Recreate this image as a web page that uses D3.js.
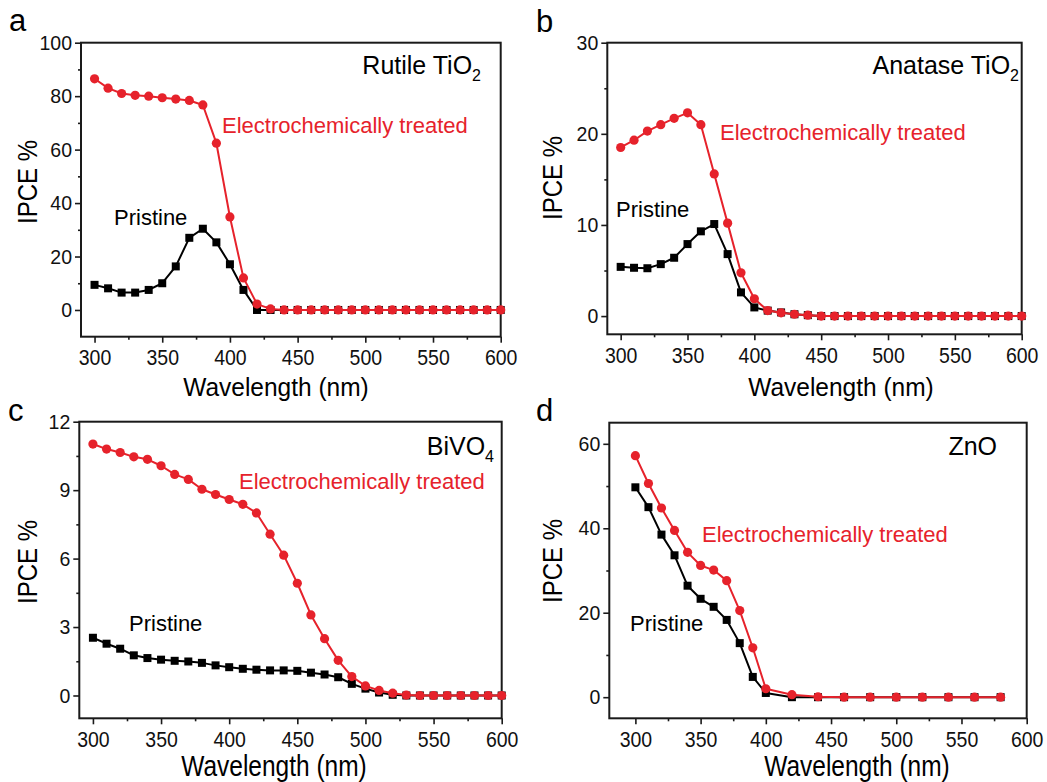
<!DOCTYPE html>
<html>
<head>
<meta charset="utf-8">
<script src="https://cdn.jsdelivr.net/npm/d3@7"></script>
<style>
  body { margin: 0; background: #fff; }
  svg { font-family: "Liberation Sans", Arial, Helvetica, sans-serif; }
</style>
</head>
<body>
<svg id="chart" width="1047" height="782"></svg>
<script>
"use strict";

// Wavelengths (nm) shared by panels a, b and c.
const wave10 = [300, 310, 320, 330, 340, 350, 360, 370, 380, 390, 400,
  410, 420, 430, 440, 450, 460, 470, 480, 490, 500,
  510, 520, 530, 540, 550, 560, 570, 580, 590, 600];

// Panel d was measured on a coarser grid above 400 nm.
const waveZnO = [300, 310, 320, 330, 340, 350, 360, 370, 380, 390, 400,
  420, 440, 460, 480, 500, 520, 540, 560, 580];

// IPCE %.
const rutileTreated = [86.5, 83, 81, 80.3, 80, 79.4, 78.9, 78.4, 76.7, 62.4, 34.8,
  12, 2.2, 0.4, 0, 0, 0, 0, 0, 0, 0, 0, 0, 0, 0, 0, 0, 0, 0, 0, 0];
const rutilePristine = [9.4, 8.1, 6.5, 6.5, 7.5, 10, 16.3, 27, 30.4, 25.3, 17.1,
  7.5, 0, 0, 0, 0, 0, 0, 0, 0, 0, 0, 0, 0, 0, 0, 0, 0, 0, 0, 0];

const anataseTreated = [18.5, 19.3, 20.3, 21.0, 21.7, 22.3, 21.0, 15.6, 10.2, 4.75, 1.9,
  0.6, 0.36, 0.2, 0.1, 0, 0, 0, 0, 0, 0, 0, 0, 0, 0, 0, 0, 0, 0, 0, 0];
const anatasePristine = [5.4, 5.3, 5.25, 5.7, 6.4, 7.9, 9.3, 10.1, 6.8, 2.6, 0.95,
  0.6, 0.4, 0.2, 0.1, 0, 0, 0, 0, 0, 0, 0, 0, 0, 0, 0, 0, 0, 0, 0, 0];

const bivo4Treated = [11.02, 10.8, 10.65, 10.46, 10.35, 10.07, 9.69, 9.47, 9.04, 8.81, 8.59,
  8.38, 8.0, 7.07, 6.15, 4.92, 3.53, 2.49, 1.54, 0.83, 0.42,
  0.22, 0.1, 0.02, 0, 0, 0, 0, 0, 0, 0];
const bivo4Pristine = [2.53, 2.27, 2.05, 1.76, 1.64, 1.57, 1.52, 1.49, 1.43, 1.32, 1.24,
  1.17, 1.13, 1.1, 1.1, 1.08, 1.0, 0.92, 0.8, 0.51, 0.3,
  0.13, 0.03, 0, 0, 0, 0, 0, 0, 0, 0];

const znoTreated = [57.2, 50.6, 44.8, 39.5, 34.3, 31.2, 30.1, 27.6, 20.5, 11.7, 2.0,
  0.6, 0.1, 0, 0, 0, 0, 0, 0, 0];
const znoPristine = [49.7, 45.0, 38.5, 33.6, 26.4, 23.3, 21.4, 18.3, 12.8, 4.8, 1.0,
  0, 0, 0, 0, 0, 0, 0, 0, 0];

// Tick values.
const xMajor = [300, 350, 400, 450, 500, 550, 600];
const xMinor = [325, 375, 425, 475, 525, 575];

const red = "#e6222b";
const axisColor = "#1a1a1a";

const svg = d3.select("#chart");

function zip(xs, ys) {
  return xs.map(function (x, i) { return [x, ys[i]]; });
}

function drawAxes(g, p, x, y) {
  const xAxis = g.append("g").attr("transform", "translate(0," + p.bottom + ")");
  xAxis.call(d3.axisBottom(x).tickValues(xMajor).tickSize(6).tickFormat(d3.format("d")));
  xAxis.append("g").call(d3.axisBottom(x).tickValues(xMinor).tickSize(3).tickFormat(""));
  // the original tick labels are a bit taller than they are wide
  xAxis.selectAll("text")
    .attr("y", 28.5 / 1.15).attr("dy", 0)
    .attr("transform", "scale(1,1.15)")
    .style("font-size", "19.5px");

  const yAxis = g.append("g").attr("transform", "translate(" + p.left + ",0)");
  yAxis.call(d3.axisLeft(y).tickValues(p.yMajor).tickSize(6).tickPadding(3)
    .tickFormat(d3.format("d")));
  yAxis.append("g").call(d3.axisLeft(y).tickValues(p.yMinor).tickSize(3).tickFormat(""));
  yAxis.selectAll("text").attr("dy", "0.34em").style("font-size", "19.5px");

  g.selectAll(".domain").remove();
  g.selectAll(".tick line").attr("stroke", axisColor).attr("stroke-width", 1.6);
  g.selectAll(".tick text").attr("fill", "#111");

  g.append("rect")
    .attr("x", p.left).attr("y", p.top)
    .attr("width", p.right - p.left).attr("height", p.bottom - p.top)
    .attr("fill", "none").attr("stroke", axisColor).attr("stroke-width", 2);
}

function drawSeries(g, x, y, pts, color, marker) {
  const line = d3.line().x(function (d) { return x(d[0]); }).y(function (d) { return y(d[1]); });
  g.append("path").datum(pts)
    .attr("fill", "none").attr("stroke", color).attr("stroke-width", 2)
    .attr("stroke-linejoin", "round")
    .attr("d", line);
  if (marker === "square") {
    g.append("g").selectAll("rect").data(pts).enter().append("rect")
      .attr("x", function (d) { return x(d[0]) - 4; })
      .attr("y", function (d) { return y(d[1]) - 4; })
      .attr("width", 8).attr("height", 8)
      .attr("fill", color);
  } else {
    g.append("g").selectAll("circle").data(pts).enter().append("circle")
      .attr("cx", function (d) { return x(d[0]); })
      .attr("cy", function (d) { return y(d[1]); })
      .attr("r", 4.6)
      .attr("fill", color);
  }
}

function drawTitles(g, p) {
  g.append("text")
    .attr("x", p.letter[0]).attr("y", p.letter[1])
    .style("font-size", "31px").text(p.name);

  g.append("text")
    .attr("transform", "translate(" + p.yTitle[0] + "," + p.yTitle[1] + ") rotate(-90) scale(1,1.15)")
    .attr("text-anchor", "middle")
    .style("font-size", "24px").text("IPCE %");

  g.append("text")
    .attr("transform", "translate(" + p.xTitle[0] + "," + p.xTitle[1] + ") scale(1," + p.xStretch + ")")
    .attr("text-anchor", "middle")
    .style("font-size", "24.5px").text("Wavelength (nm)");

  const mat = g.append("text")
    .attr("x", p.material[0]).attr("y", p.material[1])
    .attr("text-anchor", "end")
    .style("font-size", "25px");
  mat.append("tspan").text(p.materialText);
  if (p.materialSub) {
    mat.append("tspan").attr("dy", 7).style("font-size", "16px").text(p.materialSub);
  }

  g.append("text")
    .attr("x", p.treatedLabel[0]).attr("y", p.treatedLabel[1])
    .attr("fill", red).style("font-size", "22px")
    .text("Electrochemically treated");

  g.append("text")
    .attr("x", p.pristineLabel[0]).attr("y", p.pristineLabel[1])
    .attr("fill", "#000").style("font-size", "22px")
    .text("Pristine");
}

function drawPanel(p) {
  const g = svg.append("g");
  const x = d3.scaleLinear().domain(p.xDomain).range([p.left, p.right]);
  const y = d3.scaleLinear().domain(p.yDomain).range([p.bottom, p.top]);
  drawAxes(g, p, x, y);
  drawSeries(g, x, y, zip(p.wave, p.pristine), "#000", "square");
  drawSeries(g, x, y, zip(p.wave, p.treated), red, "circle");
  drawTitles(g, p);
}

const panels = [
  {
    name: "a", wave: wave10, treated: rutileTreated, pristine: rutilePristine,
    left: 81, right: 500.7, top: 42.7, bottom: 336.7,
    xDomain: [290, 600], yDomain: [-10, 100],
    yMajor: [0, 20, 40, 60, 80, 100], yMinor: [10, 30, 50, 70, 90],
    letter: [9, 31], yTitle: [37, 182], xTitle: [276, 396], xStretch: 1.05,
    materialText: "Rutile TiO", materialSub: "2", material: [481, 74],
    treatedLabel: [222, 133], pristineLabel: [114, 225]
  },
  {
    name: "b", wave: wave10, treated: anataseTreated, pristine: anatasePristine,
    left: 607.3, right: 1021.7, top: 42.7, bottom: 334.3,
    xDomain: [290, 600], yDomain: [-2, 30],
    yMajor: [0, 10, 20, 30], yMinor: [5, 15, 25],
    letter: [536, 32], yTitle: [562, 178], xTitle: [841, 396], xStretch: 1.05,
    materialText: "Anatase TiO", materialSub: "2", material: [1019, 74],
    treatedLabel: [720, 140], pristineLabel: [616, 217]
  },
  {
    name: "c", wave: wave10, treated: bivo4Treated, pristine: bivo4Pristine,
    left: 79.3, right: 501.7, top: 421.7, bottom: 718.3,
    xDomain: [290, 600], yDomain: [-1, 12],
    yMajor: [0, 3, 6, 9, 12], yMinor: [1.5, 4.5, 7.5, 10.5],
    letter: [8, 421], yTitle: [37, 562], xTitle: [274, 776], xStretch: 1.2,
    materialText: "BiVO", materialSub: "4", material: [494, 455],
    treatedLabel: [239, 489], pristineLabel: [129, 631]
  },
  {
    name: "d", wave: waveZnO, treated: znoTreated, pristine: znoPristine,
    left: 609.3, right: 1026.7, top: 422.7, bottom: 718.3,
    xDomain: [280, 600], yDomain: [-5, 65],
    yMajor: [0, 20, 40, 60], yMinor: [10, 30, 50],
    letter: [536, 421], yTitle: [562, 561], xTitle: [857, 776], xStretch: 1.2,
    materialText: "ZnO", materialSub: null, material: [997, 455],
    treatedLabel: [702, 542], pristineLabel: [630, 631]
  }
];

panels.forEach(drawPanel);
</script>
</body>
</html>
